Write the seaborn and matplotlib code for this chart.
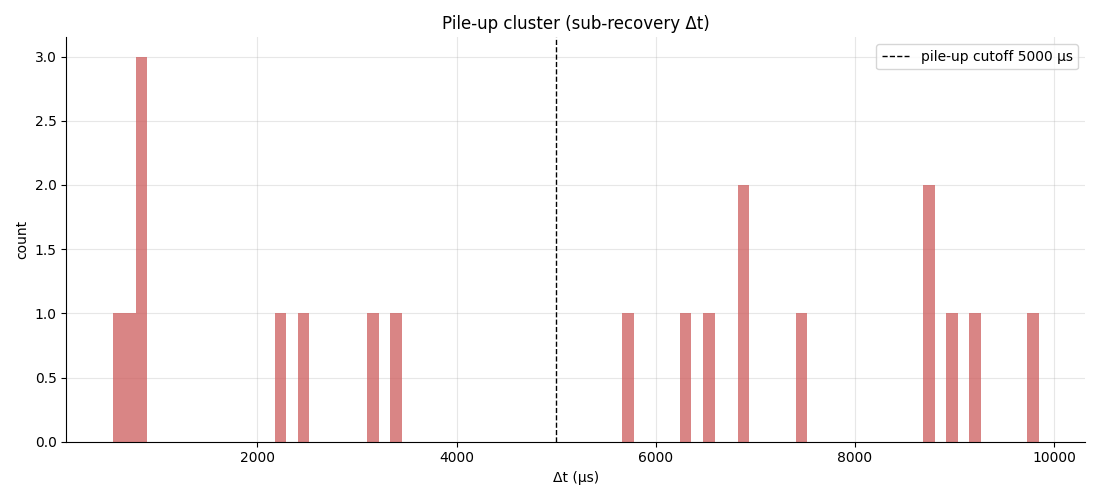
import numpy as np
import pandas as pd
import matplotlib
matplotlib.use("Agg")
import matplotlib.pyplot as plt
import seaborn as sns

# delta t values (us)
dt_us = [545, 680, 790, 820, 850,
         2230, 2460, 3150, 3380,
         5710, 6290, 6520, 6860, 6890, 7460,
         8740, 8770, 8980, 9210, 9845]
n_bins = 80
cutoff_us = 5000

df = pd.DataFrame({"dt": dt_us})

plt.rcParams['font.family'] = ['DejaVu Sans']

fig, ax = plt.subplots(figsize=(11, 5), dpi=100)
sns.histplot(data=df, x="dt", bins=n_bins, color="indianred", alpha=0.75,
             linewidth=0, ax=ax)
ax.axvline(cutoff_us, color="black", linestyle="--", linewidth=1,
           label=f"pile-up cutoff {cutoff_us} µs")

ax.set_title("Pile-up cluster (sub-recovery Δt)")
ax.set_xlabel("Δt (µs)")
ax.set_ylabel("count")
ax.grid(True, alpha=0.3)
ax.set_axisbelow(True)
sns.despine(ax=ax)
ax.legend(loc="upper right")

plt.tight_layout()
plt.savefig("out.png")
